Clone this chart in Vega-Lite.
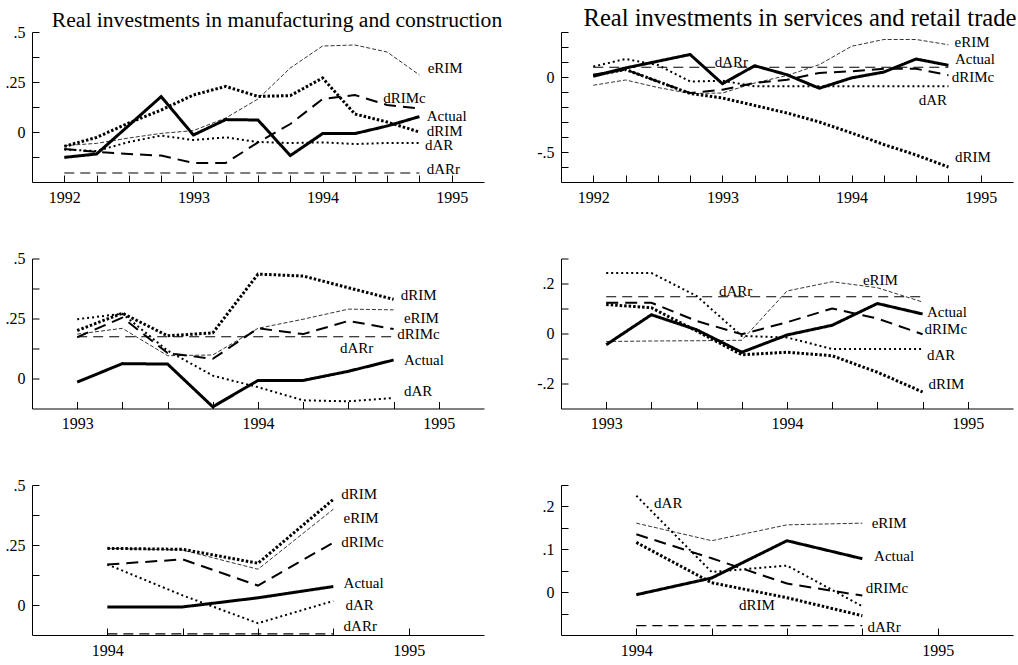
{
  "$schema": "https://vega.github.io/schema/vega-lite/v6.json",
  "padding": {"left": 2, "top": 6, "right": 0, "bottom": 0},
  "background": "white",
  "datasets": {
    "lines": [
      {"p": 1, "t": 1992, "Actual": -0.127, "eRIM": -0.068, "dRIMc": -0.085, "dRIM": -0.072, "dAR": -0.088, "dARr": -0.205},
      {"p": 1, "t": 1992.25, "Actual": -0.11, "eRIM": -0.057, "dRIMc": -0.1, "dRIM": -0.027, "dAR": -0.095, "dARr": -0.205},
      {"p": 1, "t": 1992.5, "Actual": 0.033, "eRIM": -0.03, "dRIMc": -0.11, "dRIM": 0.045, "dAR": -0.05, "dARr": -0.205},
      {"p": 1, "t": 1992.75, "Actual": 0.177, "eRIM": -0.007, "dRIMc": -0.118, "dRIM": 0.11, "dAR": -0.018, "dARr": -0.205},
      {"p": 1, "t": 1993, "Actual": -0.015, "eRIM": 0.007, "dRIMc": -0.155, "dRIM": 0.185, "dAR": -0.04, "dARr": -0.205},
      {"p": 1, "t": 1993.25, "Actual": 0.062, "eRIM": 0.07, "dRIMc": -0.155, "dRIM": 0.228, "dAR": -0.027, "dARr": -0.205},
      {"p": 1, "t": 1993.5, "Actual": 0.06, "eRIM": 0.165, "dRIMc": -0.052, "dRIM": 0.178, "dAR": -0.05, "dARr": -0.205},
      {"p": 1, "t": 1993.75, "Actual": -0.118, "eRIM": 0.32, "dRIMc": 0.04, "dRIM": 0.182, "dAR": -0.055, "dARr": -0.205},
      {"p": 1, "t": 1994, "Actual": -0.008, "eRIM": 0.43, "dRIMc": 0.165, "dRIM": 0.27, "dAR": -0.052, "dARr": -0.205},
      {"p": 1, "t": 1994.25, "Actual": -0.008, "eRIM": 0.435, "dRIMc": 0.185, "dRIM": 0.09, "dAR": -0.06, "dARr": -0.205},
      {"p": 1, "t": 1994.5, "Actual": 0.03, "eRIM": 0.4, "dRIMc": 0.135, "dRIM": 0.05, "dAR": -0.055, "dARr": -0.205},
      {"p": 1, "t": 1994.75, "Actual": 0.077, "eRIM": 0.285, "dRIMc": 0.118, "dRIM": 0.0, "dAR": -0.055, "dARr": -0.205},

      {"p": 2, "t": 1992, "Actual": 0.005, "eRIM": -0.055, "dRIMc": 0.015, "dRIM": 0.01, "dAR": 0.07, "dARr": 0.065},
      {"p": 2, "t": 1992.25, "Actual": 0.06, "eRIM": -0.02, "dRIMc": 0.05, "dRIM": 0.05, "dAR": 0.12, "dARr": 0.065},
      {"p": 2, "t": 1992.5, "Actual": 0.105, "eRIM": -0.07, "dRIMc": -0.03, "dRIM": -0.03, "dAR": 0.08, "dARr": 0.065},
      {"p": 2, "t": 1992.75, "Actual": 0.15, "eRIM": -0.11, "dRIMc": -0.107, "dRIM": -0.11, "dAR": -0.03, "dARr": 0.065},
      {"p": 2, "t": 1993, "Actual": -0.045, "eRIM": -0.107, "dRIMc": -0.085, "dRIM": -0.14, "dAR": -0.025, "dARr": 0.065},
      {"p": 2, "t": 1993.25, "Actual": 0.075, "eRIM": -0.04, "dRIMc": -0.04, "dRIM": -0.19, "dAR": -0.062, "dARr": 0.065},
      {"p": 2, "t": 1993.5, "Actual": 0.015, "eRIM": 0.01, "dRIMc": -0.018, "dRIM": -0.24, "dAR": -0.062, "dARr": 0.065},
      {"p": 2, "t": 1993.75, "Actual": -0.075, "eRIM": 0.082, "dRIMc": 0.027, "dRIM": -0.3, "dAR": -0.062, "dARr": 0.065},
      {"p": 2, "t": 1994, "Actual": -0.006, "eRIM": 0.205, "dRIMc": 0.038, "dRIM": -0.373, "dAR": -0.062, "dARr": 0.065},
      {"p": 2, "t": 1994.25, "Actual": 0.033, "eRIM": 0.25, "dRIMc": 0.055, "dRIM": -0.45, "dAR": -0.062, "dARr": 0.065},
      {"p": 2, "t": 1994.5, "Actual": 0.12, "eRIM": 0.25, "dRIMc": 0.055, "dRIM": -0.52, "dAR": -0.062, "dARr": 0.065},
      {"p": 2, "t": 1994.75, "Actual": 0.078, "eRIM": 0.215, "dRIMc": 0.012, "dRIM": -0.6, "dAR": -0.062, "dARr": 0.065},

      {"p": 3, "t": 1993, "Actual": -0.015, "eRIM": 0.185, "dRIMc": 0.172, "dRIM": 0.2, "dAR": 0.247, "dARr": 0.174},
      {"p": 3, "t": 1993.25, "Actual": 0.062, "eRIM": 0.209, "dRIMc": 0.254, "dRIM": 0.272, "dAR": 0.27, "dARr": 0.174},
      {"p": 3, "t": 1993.5, "Actual": 0.06, "eRIM": 0.095, "dRIMc": 0.106, "dRIM": 0.178, "dAR": 0.116, "dARr": 0.174},
      {"p": 3, "t": 1993.75, "Actual": -0.118, "eRIM": 0.098, "dRIMc": 0.082, "dRIM": 0.19, "dAR": 0.012, "dARr": 0.174},
      {"p": 3, "t": 1994, "Actual": -0.008, "eRIM": 0.209, "dRIMc": 0.209, "dRIM": 0.435, "dAR": -0.036, "dARr": 0.174},
      {"p": 3, "t": 1994.25, "Actual": -0.008, "eRIM": 0.247, "dRIMc": 0.185, "dRIM": 0.427, "dAR": -0.091, "dARr": 0.174},
      {"p": 3, "t": 1994.5, "Actual": 0.03, "eRIM": 0.289, "dRIMc": 0.24, "dRIM": 0.378, "dAR": -0.095, "dARr": 0.174},
      {"p": 3, "t": 1994.75, "Actual": 0.077, "eRIM": 0.286, "dRIMc": 0.206, "dRIM": 0.33, "dAR": -0.081, "dARr": 0.174},

      {"p": 4, "t": 1993, "Actual": -0.045, "eRIM": -0.032, "dRIMc": 0.123, "dRIM": 0.116, "dAR": 0.242, "dARr": 0.147},
      {"p": 4, "t": 1993.25, "Actual": 0.075, "eRIM": -0.03, "dRIMc": 0.123, "dRIM": 0.103, "dAR": 0.242, "dARr": 0.147},
      {"p": 4, "t": 1993.5, "Actual": 0.015, "eRIM": -0.029, "dRIMc": 0.05, "dRIM": 0.01, "dAR": 0.15, "dARr": 0.147},
      {"p": 4, "t": 1993.75, "Actual": -0.075, "eRIM": -0.027, "dRIMc": -0.003, "dRIM": -0.085, "dAR": -0.01, "dARr": 0.147},
      {"p": 4, "t": 1994, "Actual": -0.006, "eRIM": 0.17, "dRIMc": 0.045, "dRIM": -0.075, "dAR": -0.016, "dARr": 0.147},
      {"p": 4, "t": 1994.25, "Actual": 0.033, "eRIM": 0.207, "dRIMc": 0.1, "dRIM": -0.089, "dAR": -0.062, "dARr": 0.147},
      {"p": 4, "t": 1994.5, "Actual": 0.12, "eRIM": 0.183, "dRIMc": 0.06, "dRIM": -0.155, "dAR": -0.062, "dARr": 0.147},
      {"p": 4, "t": 1994.75, "Actual": 0.078, "eRIM": 0.126, "dRIMc": -0.003, "dRIM": -0.234, "dAR": -0.062, "dARr": 0.147},

      {"p": 5, "t": 1994, "Actual": -0.008, "eRIM": 0.236, "dRIMc": 0.169, "dRIM": 0.236, "dAR": 0.169, "dARr": -0.12},
      {"p": 5, "t": 1994.25, "Actual": -0.008, "eRIM": 0.229, "dRIMc": 0.19, "dRIM": 0.232, "dAR": 0.04, "dARr": -0.12},
      {"p": 5, "t": 1994.5, "Actual": 0.03, "eRIM": 0.149, "dRIMc": 0.081, "dRIM": 0.174, "dAR": -0.076, "dARr": -0.12},
      {"p": 5, "t": 1994.75, "Actual": 0.077, "eRIM": 0.399, "dRIMc": 0.26, "dRIM": 0.44, "dAR": 0.017, "dARr": -0.12},

      {"p": 6, "t": 1994, "Actual": -0.006, "eRIM": 0.161, "dRIMc": 0.135, "dRIM": 0.116, "dAR": 0.225, "dARr": -0.078},
      {"p": 6, "t": 1994.25, "Actual": 0.033, "eRIM": 0.12, "dRIMc": 0.079, "dRIM": 0.022, "dAR": 0.047, "dARr": -0.078},
      {"p": 6, "t": 1994.5, "Actual": 0.12, "eRIM": 0.157, "dRIMc": 0.02, "dRIM": -0.013, "dAR": 0.062, "dARr": -0.078},
      {"p": 6, "t": 1994.75, "Actual": 0.078, "eRIM": 0.161, "dRIMc": -0.008, "dRIM": -0.055, "dAR": -0.033, "dARr": -0.078}
    ],
    "labels": [
      {"p": 1, "s": "eRIM", "x": 1994.814, "y": 0.32},
      {"p": 1, "s": "dRIMc", "x": 1994.47, "y": 0.17},
      {"p": 1, "s": "Actual", "x": 1994.806, "y": 0.078},
      {"p": 1, "s": "dRIM", "x": 1994.806, "y": 0.007},
      {"p": 1, "s": "dAR", "x": 1994.793, "y": -0.063},
      {"p": 1, "s": "dARr", "x": 1994.806, "y": -0.185},
      {"p": 2, "s": "eRIM", "x": 1994.797, "y": 0.233},
      {"p": 2, "s": "Actual", "x": 1994.8, "y": 0.122},
      {"p": 2, "s": "dRIMc", "x": 1994.776, "y": -0.002},
      {"p": 2, "s": "dAR", "x": 1994.52, "y": -0.151},
      {"p": 2, "s": "dRIM", "x": 1994.8, "y": -0.535},
      {"p": 2, "s": "dARr", "x": 1992.94, "y": 0.1},
      {"p": 3, "s": "dRIM", "x": 1994.789, "y": 0.347},
      {"p": 3, "s": "eRIM", "x": 1994.807, "y": 0.253},
      {"p": 3, "s": "dRIMc", "x": 1994.77, "y": 0.185},
      {"p": 3, "s": "dARr", "x": 1994.453, "y": 0.126},
      {"p": 3, "s": "Actual", "x": 1994.807, "y": 0.079},
      {"p": 3, "s": "dAR", "x": 1994.807, "y": -0.05},
      {"p": 4, "s": "eRIM", "x": 1994.42, "y": 0.216},
      {"p": 4, "s": "dARr", "x": 1993.624, "y": 0.169},
      {"p": 4, "s": "Actual", "x": 1994.774, "y": 0.087},
      {"p": 4, "s": "dRIMc", "x": 1994.761, "y": 0.017},
      {"p": 4, "s": "dAR", "x": 1994.774, "y": -0.086},
      {"p": 4, "s": "dRIM", "x": 1994.783, "y": -0.201},
      {"p": 5, "s": "dRIM", "x": 1994.776, "y": 0.461},
      {"p": 5, "s": "eRIM", "x": 1994.784, "y": 0.364},
      {"p": 5, "s": "dRIMc", "x": 1994.776, "y": 0.264},
      {"p": 5, "s": "Actual", "x": 1994.784, "y": 0.093},
      {"p": 5, "s": "dAR", "x": 1994.79, "y": 0.0},
      {"p": 5, "s": "dARr", "x": 1994.784, "y": -0.0875},
      {"p": 6, "s": "dAR", "x": 1994.059, "y": 0.209},
      {"p": 6, "s": "eRIM", "x": 1994.781, "y": 0.1625},
      {"p": 6, "s": "Actual", "x": 1994.789, "y": 0.084},
      {"p": 6, "s": "dRIMc", "x": 1994.761, "y": 0.0086},
      {"p": 6, "s": "dRIM", "x": 1994.341, "y": -0.029},
      {"p": 6, "s": "dARr", "x": 1994.767, "y": -0.081}
    ]
  },
  "columns": 2,
  "bounds": "flush",
  "spacing": {"row": 76.5, "column": 77},
  "resolve": {"scale": {"x": "independent", "y": "independent"}, "axis": {"x": "independent", "y": "independent"}},
  "concat": [
    {
      "width": 452, "height": 150,
      "title": {"text": "Real investments in manufacturing and construction", "dx": 19, "offset": -8, "fontSize": 21.6},
      "layer": [
        {
          "data": {"name": "lines"},
          "transform": [{"filter": "datum.p == 1"}, {"fold": ["Actual", "eRIM", "dRIMc", "dRIM", "dAR", "dARr"], "as": ["s", "v"]}],
          "mark": {"type": "line", "color": "black"},
          "encoding": {
            "x": {"field": "t", "type": "quantitative", "scale": {"domain": [1991.75, 1995.25], "nice": false, "zero": false},
                  "axis": {"values": [1992, 1992.25, 1992.5, 1992.75, 1993, 1993.25, 1993.5, 1993.75, 1994, 1994.25, 1994.5, 1994.75, 1995], "labelExpr": "datum.value % 1 == 0 ? format(datum.value, 'd') : ''"}},
            "y": {"field": "v", "type": "quantitative", "scale": {"domain": [-0.25, 0.5], "nice": false, "zero": false},
                  "axis": {"values": [-0.125, 0, 0.125, 0.25, 0.375, 0.5], "labelExpr": "datum.value == 0.5 ? '.5' : datum.value == 0.25 ? '.25' : datum.value == 0 ? '0' : ''"}},
            "strokeDash": {"field": "s", "type": "nominal", "scale": {"domain": ["Actual", "eRIM", "dRIMc", "dRIM", "dAR", "dARr"], "range": [[1, 0], [4, 2], [12, 7], [2.5, 2], [2, 3], [10, 6]]}, "legend": null},
            "strokeWidth": {"field": "s", "type": "nominal", "scale": {"type": "ordinal", "domain": ["Actual", "eRIM", "dRIMc", "dRIM", "dAR", "dARr"], "range": [3, 0.8, 2, 3, 2, 1.2]}, "legend": null}
          }
        },
        {
          "data": {"name": "labels"},
          "transform": [{"filter": "datum.p == 1"}],
          "mark": {"type": "text", "align": "left", "baseline": "middle", "font": "Liberation Serif", "fontSize": 15, "color": "black"},
          "encoding": {"x": {"field": "x", "type": "quantitative"}, "y": {"field": "y", "type": "quantitative"}, "text": {"field": "s"}}
        }
      ]
    },
    {
      "width": 452, "height": 150,
      "title": {"text": "Real investments in services and retail trade", "dx": 13, "offset": -8, "fontSize": 24.6},
      "layer": [
        {
          "data": {"name": "lines"},
          "transform": [{"filter": "datum.p == 2"}, {"fold": ["Actual", "eRIM", "dRIMc", "dRIM", "dAR", "dARr"], "as": ["s", "v"]}],
          "mark": {"type": "line", "color": "black"},
          "encoding": {
            "x": {"field": "t", "type": "quantitative", "scale": {"domain": [1991.75, 1995.25], "nice": false, "zero": false},
                  "axis": {"values": [1992, 1992.25, 1992.5, 1992.75, 1993, 1993.25, 1993.5, 1993.75, 1994, 1994.25, 1994.5, 1994.75, 1995], "labelExpr": "datum.value % 1 == 0 ? format(datum.value, 'd') : ''"}},
            "y": {"field": "v", "type": "quantitative", "scale": {"domain": [-0.7, 0.3], "nice": false, "zero": false},
                  "axis": {"values": [-0.6, -0.5, -0.4, -0.3, -0.2, -0.1, 0, 0.1, 0.2, 0.3], "labelExpr": "datum.value == 0 ? '0' : datum.value == -0.5 ? '-.5' : ''"}},
            "strokeDash": {"field": "s", "type": "nominal", "scale": {"domain": ["Actual", "eRIM", "dRIMc", "dRIM", "dAR", "dARr"], "range": [[1, 0], [4, 2], [12, 7], [2.5, 2], [2, 3], [10, 6]]}, "legend": null},
            "strokeWidth": {"field": "s", "type": "nominal", "scale": {"type": "ordinal", "domain": ["Actual", "eRIM", "dRIMc", "dRIM", "dAR", "dARr"], "range": [3, 0.8, 2, 3, 2, 1.2]}, "legend": null}
          }
        },
        {
          "data": {"name": "labels"},
          "transform": [{"filter": "datum.p == 2"}],
          "mark": {"type": "text", "align": "left", "baseline": "middle", "font": "Liberation Serif", "fontSize": 15, "color": "black"},
          "encoding": {"x": {"field": "x", "type": "quantitative"}, "y": {"field": "y", "type": "quantitative"}, "text": {"field": "s"}}
        }
      ]
    },
    {
      "width": 452, "height": 150,
      "layer": [
        {
          "data": {"name": "lines"},
          "transform": [{"filter": "datum.p == 3"}, {"fold": ["Actual", "eRIM", "dRIMc", "dRIM", "dAR", "dARr"], "as": ["s", "v"]}],
          "mark": {"type": "line", "color": "black"},
          "encoding": {
            "x": {"field": "t", "type": "quantitative", "scale": {"domain": [1992.75, 1995.25], "nice": false, "zero": false},
                  "axis": {"values": [1993, 1993.25, 1993.5, 1993.75, 1994, 1994.25, 1994.5, 1994.75, 1995], "labelExpr": "datum.value % 1 == 0 ? format(datum.value, 'd') : ''"}},
            "y": {"field": "v", "type": "quantitative", "scale": {"domain": [-0.125, 0.5], "nice": false, "zero": false},
                  "axis": {"values": [0, 0.125, 0.25, 0.375, 0.5], "labelExpr": "datum.value == 0.5 ? '.5' : datum.value == 0.25 ? '.25' : datum.value == 0 ? '0' : ''"}},
            "strokeDash": {"field": "s", "type": "nominal", "scale": {"domain": ["Actual", "eRIM", "dRIMc", "dRIM", "dAR", "dARr"], "range": [[1, 0], [4, 2], [12, 7], [2.5, 2], [2, 3], [10, 6]]}, "legend": null},
            "strokeWidth": {"field": "s", "type": "nominal", "scale": {"type": "ordinal", "domain": ["Actual", "eRIM", "dRIMc", "dRIM", "dAR", "dARr"], "range": [3, 0.8, 2, 3, 2, 1.2]}, "legend": null}
          }
        },
        {
          "data": {"name": "labels"},
          "transform": [{"filter": "datum.p == 3"}],
          "mark": {"type": "text", "align": "left", "baseline": "middle", "font": "Liberation Serif", "fontSize": 15, "color": "black"},
          "encoding": {"x": {"field": "x", "type": "quantitative"}, "y": {"field": "y", "type": "quantitative"}, "text": {"field": "s"}}
        }
      ]
    },
    {
      "width": 452, "height": 150,
      "layer": [
        {
          "data": {"name": "lines"},
          "transform": [{"filter": "datum.p == 4"}, {"fold": ["Actual", "eRIM", "dRIMc", "dRIM", "dAR", "dARr"], "as": ["s", "v"]}],
          "mark": {"type": "line", "color": "black"},
          "encoding": {
            "x": {"field": "t", "type": "quantitative", "scale": {"domain": [1992.75, 1995.25], "nice": false, "zero": false},
                  "axis": {"values": [1993, 1993.25, 1993.5, 1993.75, 1994, 1994.25, 1994.5, 1994.75, 1995], "labelExpr": "datum.value % 1 == 0 ? format(datum.value, 'd') : ''"}},
            "y": {"field": "v", "type": "quantitative", "scale": {"domain": [-0.3, 0.3], "nice": false, "zero": false},
                  "axis": {"values": [-0.2, -0.1, 0, 0.1, 0.2, 0.3], "labelExpr": "datum.value == 0.2 ? '.2' : datum.value == 0 ? '0' : datum.value == -0.2 ? '-.2' : ''"}},
            "strokeDash": {"field": "s", "type": "nominal", "scale": {"domain": ["Actual", "eRIM", "dRIMc", "dRIM", "dAR", "dARr"], "range": [[1, 0], [4, 2], [12, 7], [2.5, 2], [2, 3], [10, 6]]}, "legend": null},
            "strokeWidth": {"field": "s", "type": "nominal", "scale": {"type": "ordinal", "domain": ["Actual", "eRIM", "dRIMc", "dRIM", "dAR", "dARr"], "range": [3, 0.8, 2, 3, 2, 1.2]}, "legend": null}
          }
        },
        {
          "data": {"name": "labels"},
          "transform": [{"filter": "datum.p == 4"}],
          "mark": {"type": "text", "align": "left", "baseline": "middle", "font": "Liberation Serif", "fontSize": 15, "color": "black"},
          "encoding": {"x": {"field": "x", "type": "quantitative"}, "y": {"field": "y", "type": "quantitative"}, "text": {"field": "s"}}
        }
      ]
    },
    {
      "width": 452, "height": 150,
      "layer": [
        {
          "data": {"name": "lines"},
          "transform": [{"filter": "datum.p == 5"}, {"fold": ["Actual", "eRIM", "dRIMc", "dRIM", "dAR", "dARr"], "as": ["s", "v"]}],
          "mark": {"type": "line", "color": "black"},
          "encoding": {
            "x": {"field": "t", "type": "quantitative", "scale": {"domain": [1993.75, 1995.25], "nice": false, "zero": false},
                  "axis": {"values": [1994, 1994.25, 1994.5, 1994.75, 1995], "labelExpr": "datum.value % 1 == 0 ? format(datum.value, 'd') : ''"}},
            "y": {"field": "v", "type": "quantitative", "scale": {"domain": [-0.125, 0.5], "nice": false, "zero": false},
                  "axis": {"values": [0, 0.125, 0.25, 0.375, 0.5], "labelExpr": "datum.value == 0.5 ? '.5' : datum.value == 0.25 ? '.25' : datum.value == 0 ? '0' : ''"}},
            "strokeDash": {"field": "s", "type": "nominal", "scale": {"domain": ["Actual", "eRIM", "dRIMc", "dRIM", "dAR", "dARr"], "range": [[1, 0], [4, 2], [12, 7], [2.5, 2], [2, 3], [10, 6]]}, "legend": null},
            "strokeWidth": {"field": "s", "type": "nominal", "scale": {"type": "ordinal", "domain": ["Actual", "eRIM", "dRIMc", "dRIM", "dAR", "dARr"], "range": [3, 0.8, 2, 3, 2, 1.2]}, "legend": null}
          }
        },
        {
          "data": {"name": "labels"},
          "transform": [{"filter": "datum.p == 5"}],
          "mark": {"type": "text", "align": "left", "baseline": "middle", "font": "Liberation Serif", "fontSize": 15, "color": "black"},
          "encoding": {"x": {"field": "x", "type": "quantitative"}, "y": {"field": "y", "type": "quantitative"}, "text": {"field": "s"}}
        }
      ]
    },
    {
      "width": 452, "height": 150,
      "layer": [
        {
          "data": {"name": "lines"},
          "transform": [{"filter": "datum.p == 6"}, {"fold": ["Actual", "eRIM", "dRIMc", "dRIM", "dAR", "dARr"], "as": ["s", "v"]}],
          "mark": {"type": "line", "color": "black"},
          "encoding": {
            "x": {"field": "t", "type": "quantitative", "scale": {"domain": [1993.75, 1995.25], "nice": false, "zero": false},
                  "axis": {"values": [1994, 1994.25, 1994.5, 1994.75, 1995], "labelExpr": "datum.value % 1 == 0 ? format(datum.value, 'd') : ''"}},
            "y": {"field": "v", "type": "quantitative", "scale": {"domain": [-0.1, 0.25], "nice": false, "zero": false},
                  "axis": {"values": [-0.05, 0, 0.05, 0.1, 0.15, 0.2, 0.25], "labelExpr": "datum.value == 0.2 ? '.2' : datum.value == 0.1 ? '.1' : datum.value == 0 ? '0' : ''"}},
            "strokeDash": {"field": "s", "type": "nominal", "scale": {"domain": ["Actual", "eRIM", "dRIMc", "dRIM", "dAR", "dARr"], "range": [[1, 0], [4, 2], [12, 7], [2.5, 2], [2, 3], [10, 6]]}, "legend": null},
            "strokeWidth": {"field": "s", "type": "nominal", "scale": {"type": "ordinal", "domain": ["Actual", "eRIM", "dRIMc", "dRIM", "dAR", "dARr"], "range": [3, 0.8, 2, 3, 2, 1.2]}, "legend": null}
          }
        },
        {
          "data": {"name": "labels"},
          "transform": [{"filter": "datum.p == 6"}],
          "mark": {"type": "text", "align": "left", "baseline": "middle", "font": "Liberation Serif", "fontSize": 15, "color": "black"},
          "encoding": {"x": {"field": "x", "type": "quantitative"}, "y": {"field": "y", "type": "quantitative"}, "text": {"field": "s"}}
        }
      ]
    }
  ],
  "config": {
    "view": {"stroke": null},
    "font": "Liberation Serif",
    "axis": {"grid": false, "title": null, "tickCount": 100, "domainColor": "black", "domainWidth": 1, "tickColor": "black", "tickWidth": 1, "tickSize": -7, "labelPadding": 14, "labelColor": "black", "labelFont": "Liberation Serif", "labelFontSize": 16, "labelFlush": false, "labelOverlap": false, "labelBound": false},
    "axisY": {"minExtent": 30},
    "title": {"font": "Liberation Serif", "fontSize": 20, "fontWeight": "normal", "color": "black", "anchor": "middle", "frame": "group"}
  }
}
